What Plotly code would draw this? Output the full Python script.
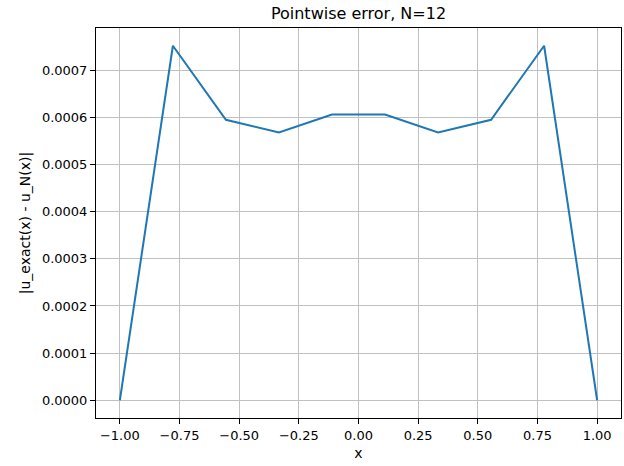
import numpy as np
import plotly.graph_objects as go

# Collocation nodes and pointwise absolute error
x_nodes = [-1.0, -7/9, -5/9, -3/9, -1/9, 1/9, 3/9, 5/9, 7/9, 1.0]
abs_error = [0.0, 0.000752, 0.000595, 0.000568, 0.000606,
             0.000606, 0.000568, 0.000595, 0.000752, 0.0]

x_ticks = [-1.0, -0.75, -0.5, -0.25, 0.0, 0.25, 0.5, 0.75, 1.0]
y_ticks = [0.0, 0.0001, 0.0002, 0.0003, 0.0004, 0.0005, 0.0006, 0.0007]

font = "DejaVu Sans"

fig = go.Figure()
fig.add_trace(go.Scatter(
    x=x_nodes, y=abs_error, mode="lines",
    line=dict(color="#1f77b4", width=2),
    showlegend=False,
))

ymax = max(abs_error)
ypad = 0.05 * ymax

axis_common = dict(
    showline=True, linecolor="black", linewidth=1, mirror=True,
    ticks="outside", ticklen=5, tickcolor="black", tickwidth=1,
    showgrid=True, gridcolor="#c0c0c0", gridwidth=1,
    zeroline=False,
    tickfont=dict(family=font, size=13, color="black"),
)

fig.update_layout(
    width=624, height=466,
    margin=dict(l=96, r=3, t=28, b=48),
    paper_bgcolor="white", plot_bgcolor="white",
    title=dict(text="Pointwise error, N=12", x=(96 + 621) / 2 / 624, xanchor="center",
               y=1 - 13 / 466, yanchor="middle",
               font=dict(family=font, size=16, color="black")),
    xaxis=dict(axis_common, range=[-1.1, 1.1], tickvals=x_ticks, tickformat=".2f",
               title=dict(text="x", font=dict(family=font, size=14, color="black"), standoff=6)),
    yaxis=dict(axis_common, range=[-ypad, ymax + ypad], tickvals=y_ticks, tickformat=".4f",
               title=dict(text="|u_exact(x) - u_N(x)|", font=dict(family=font, size=14, color="black"),
                          standoff=8)),
)

fig.write_html("out.html")
